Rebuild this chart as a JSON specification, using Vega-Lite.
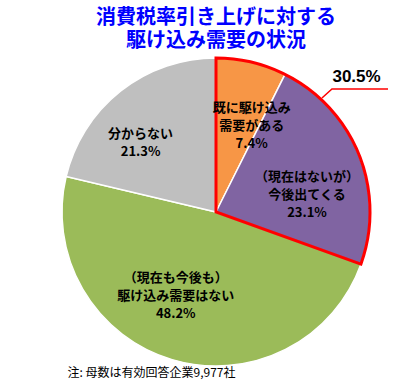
{
  "$schema": "https://vega.github.io/schema/vega-lite/v6.json",
  "width": 308,
  "height": 308,
  "autosize": {"type": "none"},
  "padding": {"left": 62, "top": 58, "right": 41, "bottom": 20},
  "background": "white",
  "title": {
    "text": ["消費税率引き上げに対する", "駆け込み需要の状況"],
    "font": "Noto Sans CJK JP",
    "fontSize": 20,
    "fontWeight": "bold",
    "color": "#0000ff",
    "lineHeight": 23,
    "anchor": "middle",
    "offset": 1
  },
  "datasets": {
    "slices": [
      {"k": "既に駆け込み需要がある", "v": 7.4, "i": 1, "lines": ["既に駆け込み", "需要がある", "7.4%"]},
      {"k": "今後出てくる", "v": 23.1, "i": 2, "lines": ["（現在はないが）", "今後出てくる", "23.1%"]},
      {"k": "駆け込み需要はない", "v": 48.2, "i": 3, "lines": ["（現在も今後も）", "駆け込み需要はない", "48.2%"]},
      {"k": "分からない", "v": 21.3, "i": 4, "lines": ["分からない", "21.3%"]}
    ],
    "outline": [
      {"g": "a", "v": 30.5, "i": 1, "lab": "30.5%"},
      {"g": "b", "v": 69.5, "i": 2, "lab": ""}
    ],
    "leader": [
      {"lx": 0.688, "ly": 0.740, "s": 1},
      {"lx": 0.753, "ly": 0.799, "s": 2},
      {"lx": 1.117, "ly": 0.799, "s": 3}
    ]
  },
  "layer": [
    {
      "data": {"name": "slices"},
      "mark": {"type": "arc", "radius": 154, "stroke": "white", "strokeWidth": 1.5},
      "encoding": {
        "theta": {"field": "v", "type": "quantitative", "stack": true},
        "order": {"field": "i", "type": "quantitative"},
        "color": {
          "field": "k",
          "type": "nominal",
          "scale": {
            "domain": ["既に駆け込み需要がある", "今後出てくる", "駆け込み需要はない", "分からない"],
            "range": ["#F79646", "#8064A2", "#9BBB59", "#BFBFBF"]
          },
          "legend": null
        }
      }
    },
    {
      "data": {"name": "outline"},
      "mark": {"type": "arc", "radius": 154, "fill": "transparent", "stroke": "#ff0000", "strokeWidth": 3, "strokeJoin": "miter"},
      "encoding": {
        "theta": {"field": "v", "type": "quantitative", "stack": true},
        "order": {"field": "i", "type": "quantitative"},
        "detail": {"field": "g", "type": "nominal"},
        "strokeOpacity": {"condition": {"test": "datum.g === 'a'", "value": 1}, "value": 0}
      }
    },
    {
      "data": {"name": "leader"},
      "mark": {"type": "line", "stroke": "#ff0000", "strokeWidth": 1.5},
      "encoding": {
        "x": {
          "field": "lx", "type": "quantitative",
          "scale": {"domain": [-1, 1], "nice": false, "zero": false},
          "axis": {
            "title": "注: 母数は有効回答企業9,977社",
            "domain": false, "ticks": false, "labels": false, "grid": false,
            "titleFont": "Noto Sans CJK JP", "titleFontSize": 12, "titleFontWeight": "normal",
            "titleColor": "#000000", "titleAlign": "left", "titleBaseline": "top",
            "titleX": 5, "titleY": 1
          }
        },
        "y": {
          "field": "ly", "type": "quantitative",
          "scale": {"domain": [-1, 1], "nice": false, "zero": false},
          "axis": null
        },
        "order": {"field": "s", "type": "quantitative"}
      }
    },
    {
      "data": {"name": "slices"},
      "mark": {"type": "text", "radius": 107, "dx": 11, "font": "Noto Sans CJK JP", "fontSize": 13, "fontWeight": "bold", "lineHeight": 18, "align": "center", "baseline": "middle", "color": "#000000"},
      "encoding": {
        "theta": {"field": "v", "type": "quantitative", "stack": true},
        "order": {"field": "i", "type": "quantitative"},
        "detail": {"field": "k", "type": "nominal"},
        "text": {"condition": {"test": "datum.i === 1", "field": "lines"}, "value": ""}
      }
    },
    {
      "data": {"name": "slices"},
      "mark": {"type": "text", "radius": 98, "dy": 1, "font": "Noto Sans CJK JP", "fontSize": 13, "fontWeight": "bold", "lineHeight": 18, "align": "center", "baseline": "middle", "color": "#000000"},
      "encoding": {
        "theta": {"field": "v", "type": "quantitative", "stack": true},
        "order": {"field": "i", "type": "quantitative"},
        "detail": {"field": "k", "type": "nominal"},
        "text": {"condition": {"test": "datum.i === 2", "field": "lines"}, "value": ""}
      }
    },
    {
      "data": {"name": "slices"},
      "mark": {"type": "text", "radius": 71, "dx": -20, "dy": -2, "font": "Noto Sans CJK JP", "fontSize": 13, "fontWeight": "bold", "lineHeight": 18, "align": "center", "baseline": "middle", "color": "#000000"},
      "encoding": {
        "theta": {"field": "v", "type": "quantitative", "stack": true},
        "order": {"field": "i", "type": "quantitative"},
        "detail": {"field": "k", "type": "nominal"},
        "text": {"condition": {"test": "datum.i === 3", "field": "lines"}, "value": ""}
      }
    },
    {
      "data": {"name": "slices"},
      "mark": {"type": "text", "radius": 99, "dx": -14, "font": "Noto Sans CJK JP", "fontSize": 13, "fontWeight": "bold", "lineHeight": 18, "align": "center", "baseline": "middle", "color": "#000000"},
      "encoding": {
        "theta": {"field": "v", "type": "quantitative", "stack": true},
        "order": {"field": "i", "type": "quantitative"},
        "detail": {"field": "k", "type": "nominal"},
        "text": {"condition": {"test": "datum.i === 4", "field": "lines"}, "value": ""}
      }
    },
    {
      "data": {"name": "outline"},
      "mark": {"type": "text", "radius": 195, "dx": -19, "dy": -23, "font": "Liberation Sans", "fontSize": 17, "fontWeight": "bold", "align": "center", "baseline": "middle", "color": "#000000"},
      "encoding": {
        "theta": {"field": "v", "type": "quantitative", "stack": true},
        "order": {"field": "i", "type": "quantitative"},
        "detail": {"field": "g", "type": "nominal"},
        "text": {"field": "lab", "type": "nominal"}
      }
    }
  ],
  "config": {"view": {"stroke": null}}
}
